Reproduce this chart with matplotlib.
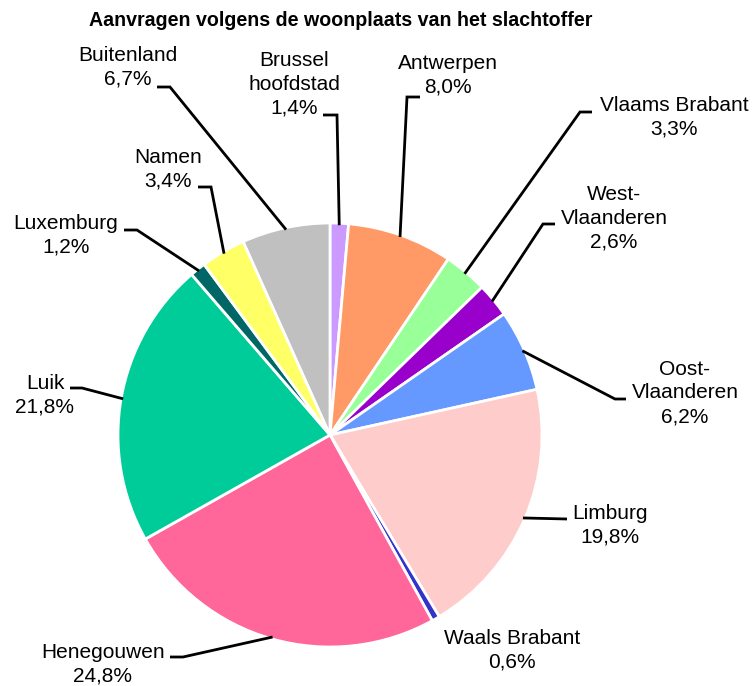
import matplotlib
matplotlib.use('Agg')
import matplotlib.pyplot as plt
import numpy as np

plt.rcParams['font.family'] = ['Liberation Sans', 'DejaVu Sans']

# data
labels = ['Brussel\nhoofdstad', 'Antwerpen', 'Vlaams Brabant', 'West-\nVlaanderen',
          'Oost-\nVlaanderen', 'Limburg', 'Waals Brabant', 'Henegouwen', 'Luik',
          'Luxemburg', 'Namen', 'Buitenland']
values = [1.4, 8.0, 3.3, 2.6, 6.2, 19.8, 0.6, 24.8, 21.8, 1.2, 3.4, 6.7]
colors = ['#CC99FF', '#FF9966', '#99FF99', '#9900CC', '#6699FF', '#FFCCCC',
          '#3333CC', '#FF6699', '#00CC99', '#006666', '#FFFF66', '#C0C0C0']

# label layout in pixel coords (x, y from top): text centre, stub start, elbow
text_pos = [(294, 84), (448, 75), (674, 117), (614, 218), (685, 393), (610, 525),
            (512, 650), (103, 664), (45, 395), (66, 235), (168, 169), (128, 67)]
stub = [(323, 115), (420, 97), (592, 112), (555, 224), (626, 399), (567, 519),
        None, (170, 657), (70, 388), (124, 230), (198, 187), (157, 87)]
elbow = [(337, 115), (407, 97), (580, 112), (543, 224), (615, 399), (567, 519),
         None, (183, 657), (82, 388), (137, 230), (211, 187), (170, 87)]

W, H = 752, 686
fig = plt.figure(figsize=(W / 100, H / 100), dpi=100)
ax = fig.add_axes([0, 0, 1, 1])

cx, cy, r = 330, H - 435, 212
wedges, _ = ax.pie(values, colors=colors, startangle=90, counterclock=False,
                   center=(cx, cy), radius=r, frame=True,
                   wedgeprops=dict(edgecolor='white', linewidth=2))
ax.set_xlim(0, W)
ax.set_ylim(0, H)
ax.set_aspect('equal')
ax.axis('off')

for i, w in enumerate(wedges):
    if stub[i] is not None:
        ang = np.deg2rad((w.theta1 + w.theta2) / 2)
        px = cx + (r - 2) * np.cos(ang)
        py = cy + (r - 2) * np.sin(ang)
        sx, sy = stub[i]
        ex, ey = elbow[i]
        ax.plot([sx, ex, px], [H - sy, H - ey, py], color='black', lw=2,
                solid_joinstyle='miter', solid_capstyle='butt')
    tx, ty = text_pos[i]
    ax.text(tx, H - ty, f"{labels[i]}\n{values[i]:.1f}%".replace('.', ','),
            ha='center', va='center', fontsize=15, linespacing=1.32)

fig.text(341 / W, 1 - 20 / H, 'Aanvragen volgens de woonplaats van het slachtoffer',
         ha='center', va='center', fontsize=14.15, fontweight='bold')

fig.savefig('out.png', dpi=100)
